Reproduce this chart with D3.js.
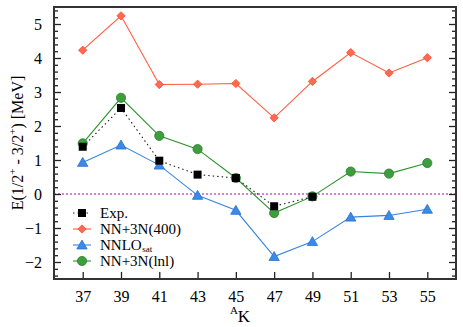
<!DOCTYPE html>
<html>
<head>
<meta charset="utf-8">
<script src="https://cdn.jsdelivr.net/npm/d3@7"></script>
<style>
  body { margin: 0; background: #fff; }
</style>
</head>
<body>
<svg id="chart"></svg>
<script>
let isotopes = [37, 39, 41, 43, 45, 47, 49, 51, 53, 55];
let expIso = [37, 39, 41, 43, 45, 47, 49];
let expVals = [1.39, 2.53, 0.98, 0.57, 0.47, -0.36, -0.08];
let n400Vals = [4.23, 5.24, 3.22, 3.23, 3.25, 2.24, 3.31, 4.16, 3.56, 4.01];
let nnloVals = [0.93, 1.44, 0.85, -0.04, -0.48, -1.84, -1.40, -0.68, -0.63, -0.45];
let lnlVals = [1.49, 2.83, 1.71, 1.32, 0.47, -0.56, -0.07, 0.66, 0.60, 0.91];
let yTicks = [-2, -1, 0, 1, 2, 3, 4, 5];

let w = 463, h = 327;
let m = {left: 54, right: 7, top: 7, bottom: 48};
let svg = d3.select("#chart").attr("width", w).attr("height", h);

let x = d3.scaleLinear().domain([35.5, 56.5]).range([m.left, w - m.right]);
let y = d3.scaleLinear().domain([-2.5, 5.5]).range([h - m.bottom, m.top]);

// zero line
svg.append("line")
  .attr("x1", x(35.5)).attr("x2", x(56.5))
  .attr("y1", y(0)).attr("y2", y(0))
  .attr("stroke", "#b000b0").attr("stroke-width", 1.2)
  .attr("stroke-dasharray", "2,2");

// axes with inward ticks
let minorY = d3.range(-2.4, 5.5, 0.2).filter(v => Math.abs(v - Math.round(v)) > 0.01);

svg.append("g").attr("transform", `translate(0,${h - m.bottom})`)
  .call(d3.axisBottom(x).tickValues(isotopes).tickSize(-7).tickPadding(12).tickFormat(d3.format("d")));
svg.append("g").attr("transform", `translate(${m.left},0)`)
  .call(d3.axisLeft(y).tickValues(yTicks).tickSize(-7).tickPadding(12).tickFormat(d3.format("d")));
svg.append("g").attr("transform", `translate(${m.left},0)`)
  .call(d3.axisLeft(y).tickValues(minorY).tickSize(-4).tickFormat(""));
svg.append("g").attr("transform", `translate(${w - m.right},0)`)
  .call(d3.axisRight(y).tickValues(yTicks).tickSize(-7).tickFormat(""));
svg.append("g").attr("transform", `translate(${w - m.right},0)`)
  .call(d3.axisRight(y).tickValues(minorY).tickSize(-4).tickFormat(""));

svg.selectAll(".domain").attr("stroke", "none");
svg.selectAll(".tick line").attr("stroke", "#222").attr("stroke-width", 1.3);
svg.selectAll(".tick text").attr("font-size", 16).attr("fill", "#000");

svg.append("rect")
  .attr("x", m.left).attr("y", m.top)
  .attr("width", w - m.left - m.right).attr("height", h - m.top - m.bottom)
  .attr("fill", "none").attr("stroke", "#333").attr("stroke-width", 2);

// series
let diamond = d3.symbol().type(d3.symbolSquare).size(34);
let triangle = d3.symbol().type(d3.symbolTriangle).size(46);

function drawLine(xs, vals, color, dash) {
  let line = d3.line().x((d, i) => x(xs[i])).y(d => y(d));
  svg.append("path").datum(vals)
    .attr("d", line).attr("fill", "none")
    .attr("stroke", color).attr("stroke-width", 1.1)
    .attr("stroke-dasharray", dash);
}

drawLine(isotopes, n400Vals, "#ff5a40", null);
drawLine(isotopes, nnloVals, "#3584e4", null);
drawLine(isotopes, lnlVals, "#2a922a", null);
drawLine(expIso, expVals, "#222", "1.5,3");

svg.append("g").selectAll("path").data(n400Vals).enter().append("path")
  .attr("transform", (d, i) => `translate(${x(isotopes[i])},${y(d)}) rotate(45)`)
  .attr("d", diamond).attr("fill", "#ff6a50").attr("stroke", "#ff4a30").attr("stroke-width", 0.8);

svg.append("g").selectAll("path").data(nnloVals).enter().append("path")
  .attr("transform", (d, i) => `translate(${x(isotopes[i])},${y(d) + 1})`)
  .attr("d", triangle).attr("fill", "#3a8ae8").attr("stroke", "#2a70d0").attr("stroke-width", 0.8);

svg.append("g").selectAll("circle").data(lnlVals).enter().append("circle")
  .attr("cx", (d, i) => x(isotopes[i])).attr("cy", d => y(d)).attr("r", 4.6)
  .attr("fill", "#3e9e3e").attr("stroke", "#2a802a").attr("stroke-width", 0.8);

svg.append("g").selectAll("rect").data(expVals).enter().append("rect")
  .attr("x", (d, i) => x(expIso[i]) - 4).attr("y", d => y(d) - 4)
  .attr("width", 8).attr("height", 8).attr("fill", "#000");

// legend
let legendItems = [
  {label: "Exp.", color: "#222", dash: "1.5,3", mark: "square"},
  {label: "NN+3N(400)", color: "#ff5a40", dash: null, mark: "diamond"},
  {label: "NNLO", sub: "sat", color: "#3584e4", dash: null, mark: "triangle"},
  {label: "NN+3N(lnl)", color: "#2a922a", dash: null, mark: "circle"}
];
let lg = svg.append("g");
legendItems.forEach((d, i) => {
  let ly = 213 + i * 16;
  let g = lg.append("g");
  g.append("line").attr("x1", 73).attr("x2", 91).attr("y1", ly).attr("y2", ly)
    .attr("stroke", d.color).attr("stroke-width", 1.1).attr("stroke-dasharray", d.dash);
  if (d.mark === "square") {
    g.append("rect").attr("x", 78).attr("y", ly - 4).attr("width", 8).attr("height", 8).attr("fill", "#000");
  } else if (d.mark === "diamond") {
    g.append("path").attr("transform", `translate(82,${ly}) rotate(45)`).attr("d", diamond)
      .attr("fill", "#ff6a50").attr("stroke", "#ff4a30").attr("stroke-width", 0.8);
  } else if (d.mark === "triangle") {
    g.append("path").attr("transform", `translate(82,${ly + 1})`).attr("d", triangle)
      .attr("fill", "#3a8ae8").attr("stroke", "#2a70d0").attr("stroke-width", 0.8);
  } else {
    g.append("circle").attr("cx", 82).attr("cy", ly).attr("r", 4.6)
      .attr("fill", "#3e9e3e").attr("stroke", "#2a802a").attr("stroke-width", 0.8);
  }
  let t = g.append("text").attr("x", 100).attr("y", ly + 5)
    .attr("font-size", 15).attr("font-family", "Liberation Serif").text(d.label);
  if (d.sub) {
    let tw = t.node().getComputedTextLength();
    g.append("text").attr("x", 100 + tw + 0.5).attr("y", ly + 7)
      .attr("font-size", 9).text(d.sub);
  }
});

// axis titles
let yl = svg.append("text")
  .attr("transform", `translate(23,${(m.top + h - m.bottom) / 2}) rotate(-90)`)
  .attr("text-anchor", "middle").attr("font-size", 16);
yl.append("tspan").text("E(1/2");
yl.append("tspan").attr("font-size", 11).attr("dy", -7).text("+");
yl.append("tspan").attr("dy", 7).text(" - 3/2");
yl.append("tspan").attr("font-size", 11).attr("dy", -7).text("+");
yl.append("tspan").attr("dy", 7).text(") [MeV]");

let xl = svg.append("text").attr("x", 240).attr("y", 322).attr("text-anchor", "middle").attr("font-size", 17);
xl.append("tspan").attr("font-size", 11).attr("dy", -8).text("A");
xl.append("tspan").attr("dy", 8).text("K");

// serif everywhere, like the original figure
svg.selectAll("text").attr("font-family", "Liberation Serif");
svg.selectAll("g").attr("font-family", "Liberation Serif");
</script>
</body>
</html>
